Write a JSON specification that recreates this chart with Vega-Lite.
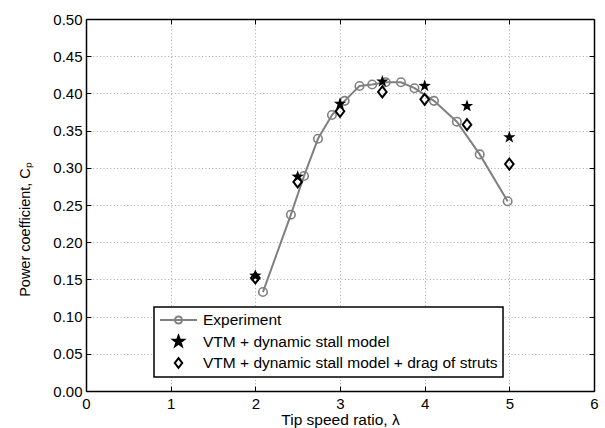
{
  "$schema": "https://vega.github.io/schema/vega-lite/v6.json",
  "width": 508,
  "height": 372,
  "autosize": "none",
  "padding": {"left": 86, "top": 19, "right": 11, "bottom": 37},
  "background": "white",
  "config": {
    "view": {"stroke": null},
    "font": "Liberation Sans",
    "axis": {
      "labelFont": "Liberation Sans",
      "titleFont": "Liberation Sans",
      "labelFontSize": 15,
      "titleFontSize": 15.5,
      "titleFontWeight": "normal",
      "labelColor": "black",
      "titleColor": "black",
      "domainColor": "black",
      "domainWidth": 1.5,
      "tickColor": "black",
      "tickWidth": 1,
      "tickSize": -5,
      "gridColor": "#a8a8a8",
      "gridDash": [1, 2.4],
      "gridWidth": 1
    },
    "legend": {
      "title": null,
      "orient": "none",
      "legendX": 68,
      "legendY": 288,
      "direction": "vertical",
      "padding": 5,
      "fillColor": "white",
      "strokeColor": "black",
      "strokeWidth": 1.5,
      "symbolSize": 1369,
      "symbolStrokeWidth": 2,
      "symbolOpacity": 1,
      "labelFont": "Liberation Sans",
      "labelFontSize": 15.5,
      "labelColor": "black",
      "labelOffset": 5,
      "labelLimit": 0,
      "clipHeight": 16,
      "rowPadding": 4.5
    }
  },
  "data": {
    "values": [
      {"series": "Experiment", "tsr": 2.09, "cp": 0.133},
      {"series": "Experiment", "tsr": 2.42, "cp": 0.237},
      {"series": "Experiment", "tsr": 2.575, "cp": 0.289},
      {"series": "Experiment", "tsr": 2.74, "cp": 0.339},
      {"series": "Experiment", "tsr": 2.905, "cp": 0.371},
      {"series": "Experiment", "tsr": 3.055, "cp": 0.39},
      {"series": "Experiment", "tsr": 3.23, "cp": 0.41},
      {"series": "Experiment", "tsr": 3.38, "cp": 0.412},
      {"series": "Experiment", "tsr": 3.54, "cp": 0.415},
      {"series": "Experiment", "tsr": 3.72, "cp": 0.415},
      {"series": "Experiment", "tsr": 3.88, "cp": 0.407},
      {"series": "Experiment", "tsr": 4.11, "cp": 0.39},
      {"series": "Experiment", "tsr": 4.38, "cp": 0.362},
      {"series": "Experiment", "tsr": 4.65, "cp": 0.318},
      {"series": "Experiment", "tsr": 4.98, "cp": 0.255},
      {"series": "VTM + dynamic stall model", "tsr": 2.0, "cp": 0.155},
      {"series": "VTM + dynamic stall model", "tsr": 2.5, "cp": 0.288},
      {"series": "VTM + dynamic stall model", "tsr": 3.0, "cp": 0.386},
      {"series": "VTM + dynamic stall model", "tsr": 3.5, "cp": 0.416},
      {"series": "VTM + dynamic stall model", "tsr": 4.0, "cp": 0.41},
      {"series": "VTM + dynamic stall model", "tsr": 4.5, "cp": 0.383},
      {"series": "VTM + dynamic stall model", "tsr": 5.0, "cp": 0.341},
      {"series": "VTM + dynamic stall model + drag of struts", "tsr": 2.0, "cp": 0.152},
      {"series": "VTM + dynamic stall model + drag of struts", "tsr": 2.5, "cp": 0.281},
      {"series": "VTM + dynamic stall model + drag of struts", "tsr": 3.0, "cp": 0.376},
      {"series": "VTM + dynamic stall model + drag of struts", "tsr": 3.5, "cp": 0.402},
      {"series": "VTM + dynamic stall model + drag of struts", "tsr": 4.0, "cp": 0.392},
      {"series": "VTM + dynamic stall model + drag of struts", "tsr": 4.5, "cp": 0.358},
      {"series": "VTM + dynamic stall model + drag of struts", "tsr": 5.0, "cp": 0.305}
    ]
  },
  "resolve": {"axis": {"x": "independent", "y": "independent"}},
  "layer": [
    {
      "transform": [{"filter": "datum.series === 'Experiment'"}],
      "mark": {"type": "line", "color": "#808080", "strokeWidth": 2},
      "encoding": {
        "x": {
          "field": "tsr", "type": "quantitative",
          "scale": {"domain": [0, 6], "nice": false, "zero": false},
          "axis": {"orient": "bottom", "values": [0, 1, 2, 3, 4, 5, 6], "format": "d", "labelPadding": 10, "title": "Tip speed ratio, λ", "titlePadding": 1, "grid": true, "labelFlush": false}
        },
        "y": {
          "field": "cp", "type": "quantitative",
          "scale": {"domain": [0, 0.5], "nice": false},
          "axis": {"orient": "left", "values": [0, 0.05, 0.1, 0.15, 0.2, 0.25, 0.3, 0.35, 0.4, 0.45, 0.5], "format": ".2f", "labelPadding": 9, "title": "Power coefficient, Cₚ", "titleFontSize": 14.5, "titlePadding": 20, "titleY": 210, "grid": true, "labelFlush": false}
        }
      }
    },
    {
      "transform": [{"filter": "datum.series === 'Experiment'"}],
      "mark": {"type": "point", "shape": "circle", "filled": false, "stroke": "#808080", "strokeWidth": 1.6, "size": 72, "opacity": 1},
      "encoding": {
        "x": {"field": "tsr", "type": "quantitative", "axis": null},
        "y": {"field": "cp", "type": "quantitative", "axis": null}
      }
    },
    {
      "transform": [{"filter": "datum.series === 'VTM + dynamic stall model'"}],
      "mark": {"type": "point", "shape": "M0,-1L0.235,-0.324L0.951,-0.309L0.38,0.124L0.588,0.809L0,0.4L-0.588,0.809L-0.38,0.124L-0.951,-0.309L-0.235,-0.324Z", "filled": true, "color": "black", "size": 169, "opacity": 1},
      "encoding": {
        "x": {"field": "tsr", "type": "quantitative", "axis": null},
        "y": {"field": "cp", "type": "quantitative", "axis": null}
      }
    },
    {
      "transform": [{"filter": "datum.series === 'VTM + dynamic stall model + drag of struts'"}],
      "mark": {"type": "point", "shape": "M0,-1L0.78,0L0,1L-0.78,0Z", "filled": false, "stroke": "black", "strokeWidth": 2, "size": 121, "opacity": 1},
      "encoding": {
        "x": {
          "field": "tsr", "type": "quantitative",
          "axis": {"orient": "top", "values": [0, 1, 2, 3, 4, 5, 6], "labels": false, "title": null, "grid": false}
        },
        "y": {
          "field": "cp", "type": "quantitative",
          "axis": {"orient": "right", "values": [0, 0.05, 0.1, 0.15, 0.2, 0.25, 0.3, 0.35, 0.4, 0.45, 0.5], "labels": false, "title": null, "grid": false}
        }
      }
    },
    {
      "transform": [{"filter": "false"}],
      "mark": {"type": "point"},
      "encoding": {
        "x": {"field": "tsr", "type": "quantitative", "axis": null},
        "y": {"field": "cp", "type": "quantitative", "axis": null},
        "shape": {
          "field": "series", "type": "nominal",
          "scale": {
            "domain": ["Experiment", "VTM + dynamic stall model", "VTM + dynamic stall model + drag of struts"],
            "range": ["M-1,0H1M0.19,0A0.19,0.19 0 1,1 -0.19,0A0.19,0.19 0 1,1 0.19,0", "M0,-0.3L0.0705,-0.0972L0.2853,-0.0927L0.114,0.0372L0.1764,0.2427L0,0.12L-0.1764,0.2427L-0.114,0.0372L-0.2853,-0.0927L-0.0705,-0.0972Z", "M0,-0.26L0.2,0L0,0.26L-0.2,0Z"]
          },
          "legend": {"title": null, "orient": "none", "legendX": 68, "legendY": 288}
        },
        "stroke": {
          "field": "series", "type": "nominal",
          "scale": {
            "domain": ["Experiment", "VTM + dynamic stall model", "VTM + dynamic stall model + drag of struts"],
            "range": ["#808080", "black", "black"]
          },
          "legend": {"title": null, "orient": "none", "legendX": 68, "legendY": 288}
        },
        "fill": {
          "field": "series", "type": "nominal",
          "scale": {
            "domain": ["Experiment", "VTM + dynamic stall model", "VTM + dynamic stall model + drag of struts"],
            "range": ["transparent", "black", "transparent"]
          },
          "legend": {"title": null, "orient": "none", "legendX": 68, "legendY": 288}
        }
      }
    }
  ]
}
